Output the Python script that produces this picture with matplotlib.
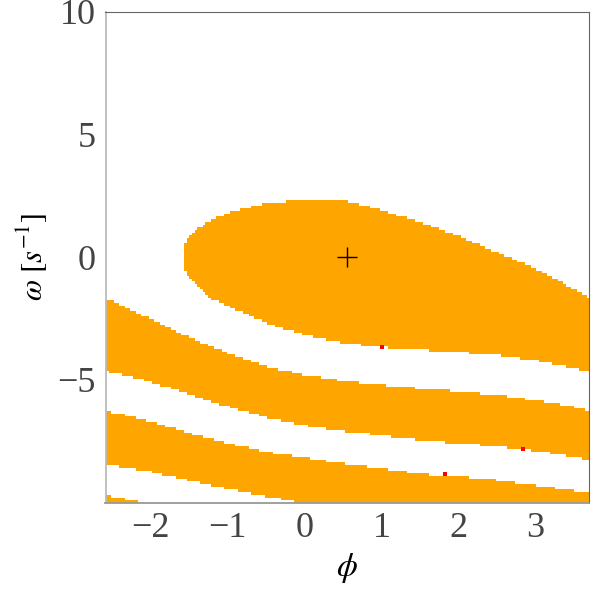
import numpy as np
import matplotlib
matplotlib.use("Agg")
import matplotlib.pyplot as plt
from matplotlib.colors import ListedColormap

# ---- data ----
# central basin (closed on the left)
blob_phi   = [-1.59, -1.5, -1.4, -1.25, -1.0, -0.5, 0.0, 0.5, 1.0, 1.5, 2.0, 2.5, 3.0, 3.5, 3.7]
blob_upper = [0.37, 0.91, 1.16, 1.46, 1.79, 2.20, 2.31, 2.30, 1.89, 1.41, 0.83, 0.155, -0.48, -1.35, -1.68]
blob_lower = [-0.38, -0.90, -1.19, -1.66, -2.01, -2.69, -3.18, -3.50, -3.67, -3.77, -3.87, -4.00, -4.22, -4.54, -4.66]

# stripes running across the window
band_phi     = [-2.6, -2.5, -2.0, -1.5, -1.0, -0.5, 0.0, 0.5, 1.0, 1.5, 2.0, 2.5, 3.0, 3.5, 3.7]
band2_upper  = [-1.67, -1.81, -2.54, -3.28, -3.91, -4.46, -4.80, -5.04, -5.21, -5.35, -5.47, -5.62, -5.83, -6.10, -6.26]
band2_lower  = [-4.64, -4.70, -5.09, -5.61, -6.10, -6.53, -6.86, -7.08, -7.26, -7.45, -7.57, -7.70, -7.89, -8.14, -8.26]
band3_upper  = [-6.27, -6.33, -6.69, -7.17, -7.56, -7.94, -8.16, -8.40, -8.59, -8.83, -8.92, -9.08, -9.29, -9.51, -9.60]
band3_lower  = [-8.42, -8.46, -8.74, -9.10, -9.43, -9.74, -10.03, -10.5, -10.5, -10.5, -10.5, -10.5, -10.5, -10.5, -10.5]
band4_upper  = [-9.64, -9.76, -10.03, -10.5, -10.5, -10.5, -10.5, -10.5, -10.5, -10.5, -10.5, -10.5, -10.5, -10.5, -10.5]
band4_lower  = [-10.5] * 15

# equilibrium point and stray cells
eq_phi, eq_omega = [0.55], [0.0]
red_phi   = [1.005, 2.84, 1.83]
red_omega = [-3.66, -7.83, -8.83]

x_ticks = [-2, -1, 0, 1, 2, 3]
y_ticks = [-5, 0, 5, 10]
x_range = (-2.59, 3.69)
y_range = (-10.0, 10.0)

# ---- build raster of the basin ----
nx, ny = 180, 182
xc = x_range[0] + (np.arange(nx) + 0.5) * (x_range[1] - x_range[0]) / nx
yc = y_range[0] + (np.arange(ny) + 0.5) * (y_range[1] - y_range[0]) / ny
X, Y = np.meshgrid(xc, yc)

def inside(phi, lo, hi):
    l = np.interp(X, phi, lo, left=np.nan, right=np.nan)
    h = np.interp(X, phi, hi, left=np.nan, right=np.nan)
    return (Y >= l) & (Y <= h)

mask = inside(blob_phi, blob_lower, blob_upper)
mask |= inside(band_phi, band2_lower, band2_upper)
mask |= inside(band_phi, band3_lower, band3_upper)
mask |= inside(band_phi, band4_lower, band4_upper)

plt.rcParams['mathtext.fontset'] = 'stix'
plt.rcParams['font.family'] = ['Liberation Serif', 'DejaVu Serif']

fig = plt.figure(figsize=(6, 6), dpi=100)
ax = fig.add_axes([105.5 / 600, 1 - 502.7 / 600, 483 / 600, 491 / 600])

ax.imshow(mask.astype(float), origin='lower', extent=[*x_range, *y_range],
          cmap=ListedColormap(['white', '#FFA500']), vmin=0, vmax=1,
          interpolation='nearest', aspect='auto')
ax.plot(red_phi, red_omega, 's', color='red', markersize=2.2, markeredgewidth=0)
ax.plot(eq_phi, eq_omega, '+', color='black', markersize=14, markeredgewidth=1.0)

ax.set_xlim(*x_range)
ax.set_ylim(*y_range)
ax.set_xticks(x_ticks)
ax.set_yticks(y_ticks)
ax.set_xticklabels(['\u2212' + str(-t) if t < 0 else str(t) for t in x_ticks])
ax.set_yticklabels(['\u2212' + str(-t) if t < 0 else str(t) for t in y_ticks])
ax.tick_params(length=0, labelsize=26, labelcolor='#444444', pad=7)

ax.spines['left'].set_color('#bbbbbb')
ax.spines['left'].set_linewidth(1.3)
ax.spines['bottom'].set_color('#999999')
ax.spines['bottom'].set_linewidth(1.3)
ax.spines['top'].set_color('#666666')
ax.spines['right'].set_color('#666666')

ax.set_xlabel(r'$\phi$', fontsize=24, labelpad=4)
ax.set_ylabel(r'$\omega\ \left[s^{-1}\right]$', fontsize=22, labelpad=6)

fig.savefig('out.png', dpi=100)
